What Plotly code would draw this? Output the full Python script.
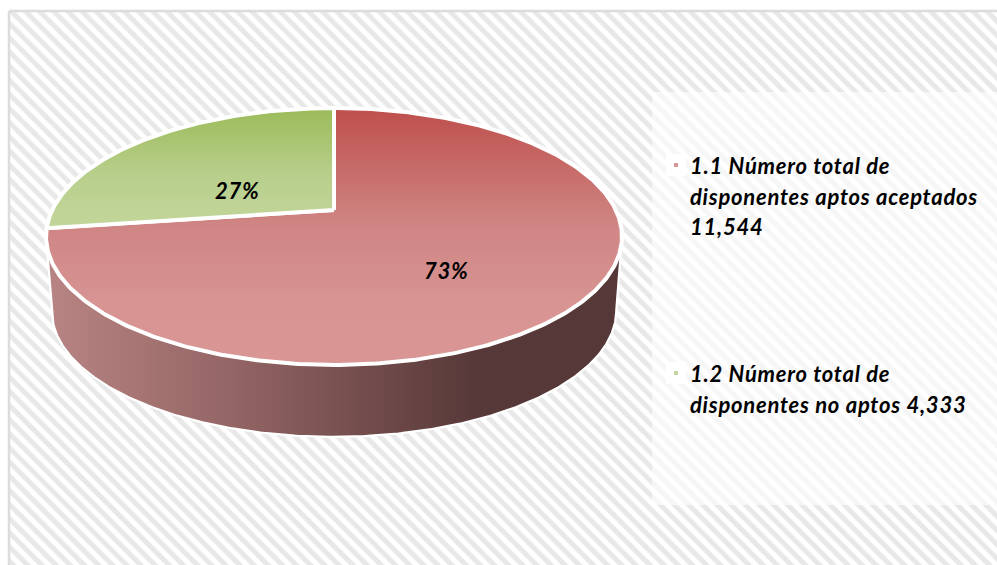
import numpy as np
import plotly.graph_objects as go

# ---- data ----
categories = ["1.1 Número total de disponentes aptos aceptados", "1.2 Número total de disponentes no aptos"]
values = [11544, 4333]
value_labels = ["11,544", "4,333"]
legend_lines = [
    ["1.1 Número total de", "disponentes aptos aceptados", "11,544"],
    ["1.2 Número total de", "disponentes no aptos 4,333"],
]

W, H = 997, 565
FONT = "Lato"

# perspective projection of the pie disc to page pixels
CX, CY, K, A, B = 334.0, 210.0, 0.206, 281.8, 123.0


def project(theta, r=1.0, scale=1.0, y0=CY):
    u, v = r * np.sin(theta), r * np.cos(theta)
    d = 1 + K * v
    return CX + scale * A * u / d, y0 - scale * B * v / d


total = sum(values)
fractions = [v / total for v in values]
boundaries = np.cumsum([0] + fractions) * 2 * np.pi

fig = go.Figure()

# page background: hatched frame running off the right and bottom of the page
fig.add_trace(go.Scatter(
    x=[9, 1003, 1003, 9, 9], y=[11, 11, 571, 571, 11], mode="lines", fill="toself",
    line=dict(color="#dcdcdc", width=2.5), fillcolor="white",
    fillpattern=dict(shape="\\", fgcolor="#e8e8e8", bgcolor="#ffffff", size=10, solidity=0.5, fillmode="replace"),
    hoverinfo="skip", showlegend=False))

# lighter legend panel
fig.add_shape(type="rect", x0=652, x1=997, y0=92, y1=505, line_width=0,
              fillcolor="rgba(255,255,255,0.6)", layer="above")

# pie wall
th = np.linspace(np.pi / 2 + 0.21, 3 * np.pi / 2 - 0.21, 300)
xt, yt = project(th)
xb, yb = project(th[::-1], scale=0.98, y0=285.0)
fig.add_trace(go.Scatter(
    x=np.r_[xt, xb, xt[0]], y=np.r_[yt, yb, yt[0]], mode="lines", fill="toself",
    line=dict(color="white", width=2.2),
    fillgradient=dict(type="horizontal", start=50, stop=620,
                      colorscale=[[0, "#b88483"], [0.35, "#8f6261"], [0.75, "#573838"], [1, "#573838"]]),
    hoverinfo="skip", showlegend=False))

# pie top slices
grads = [
    (108, 366, [[0, "#be4f4c"], [0.45, "#cf8583"], [0.75, "#d79492"], [1, "#d99694"]]),
    (108, 230, [[0, "#9bbb59"], [0.55, "#b8cf8c"], [1, "#c3d69b"]]),
]
for i in range(2):
    th = np.linspace(boundaries[i], boundaries[i + 1], 400)
    x, y = project(th)
    fig.add_trace(go.Scatter(
        x=np.r_[CX, x, CX], y=np.r_[CY, y, CY], mode="lines", fill="toself",
        line=dict(color="white", width=4), name=categories[i],
        fillgradient=dict(type="vertical", start=grads[i][0], stop=grads[i][1],
                          colorscale=grads[i][2]),
        hoverinfo="skip", showlegend=False))

# percentage labels
pct_pos = [(446, 270), (237, 190)]
for f, (px, py) in zip(fractions, pct_pos):
    fig.add_annotation(x=px, y=py, text=f"<b><i>{round(f * 100)}%</i></b>", showarrow=False,
                       font=dict(family=FONT, size=22, color="black"))

# legend entries
legend_y = [[165, 196, 226], [373, 404]]
marker_colors = ["#d99694", "#c3d69b"]
for lines, ys, c in zip(legend_lines, legend_y, marker_colors):
    fig.add_shape(type="rect", x0=666, x1=686, y0=ys[0] - 11, y1=ys[0] + 11, fillcolor="white", line_width=0, layer="above")
    fig.add_shape(type="rect", x0=674, x1=678, y0=ys[0] - 2, y1=ys[0] + 2, fillcolor=c, line_width=0, layer="above")
    for t, yy in zip(lines, ys):
        fig.add_annotation(x=688, y=yy, text=f"<b><i>{t}</i></b>", showarrow=False, xanchor="left",
                           width=305, align="left",
                           font=dict(family=FONT, size=22, color="black"))

fig.update_layout(
    width=W, height=H, margin=dict(l=0, r=0, t=0, b=0), autosize=False,
    paper_bgcolor="white", plot_bgcolor="white", showlegend=False,
    xaxis=dict(range=[0, W], visible=False, fixedrange=True),
    yaxis=dict(range=[H, 0], visible=False, fixedrange=True),
)
fig.write_html("out.html", config=dict(displayModeBar=False),
               post_script="document.body.style.margin='0';document.body.style.overflow='hidden';"
                           "document.querySelectorAll('.annotation-text').forEach(function(t){t.style.letterSpacing='0.75px';});")
